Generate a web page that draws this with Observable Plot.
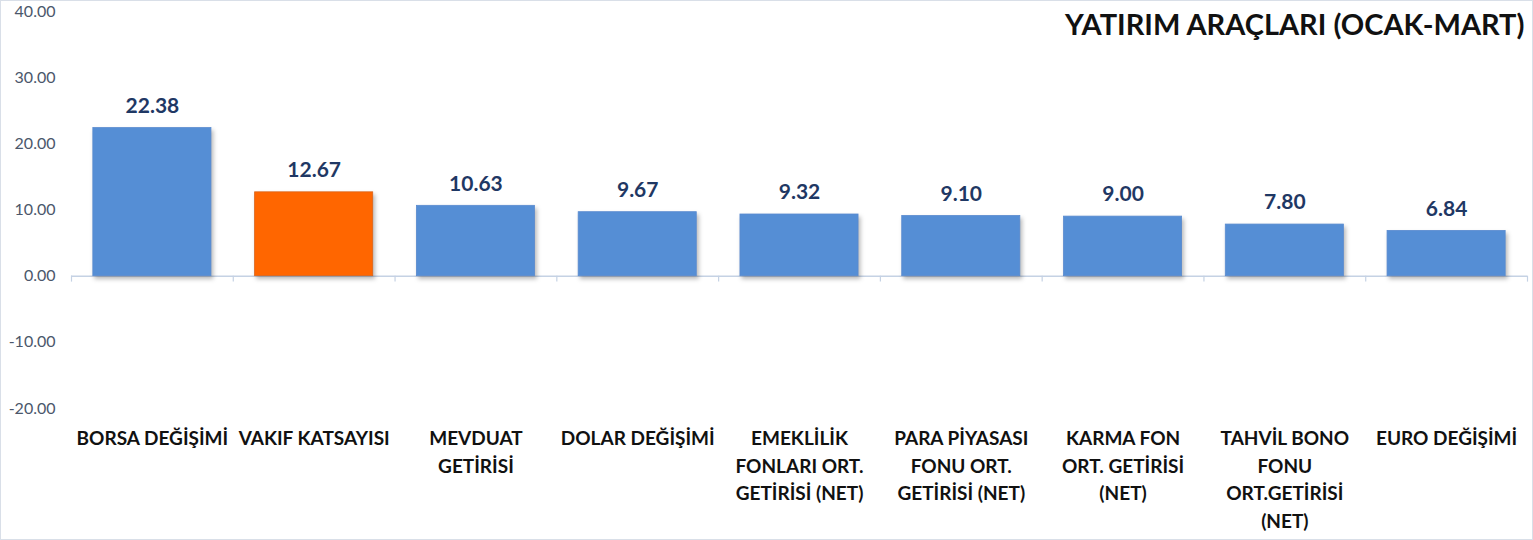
<!DOCTYPE html>
<html>
<head>
<meta charset="utf-8">
<script src="https://cdn.jsdelivr.net/npm/d3@7"></script>
<script src="https://cdn.jsdelivr.net/npm/@observablehq/plot@0.6"></script>
<style>
  html, body { margin: 0; padding: 0; background: #fff; }
  #chart svg { display: block; border: 1px solid #d9dfe8; background: #fff; }
  #chart g[aria-label="bar"] rect { filter: drop-shadow(2px 3px 2px rgba(0,0,0,0.28)); }
</style>
</head>
<body>
<div id="chart"></div>
<script>
const title = "YATIRIM ARAÇLARI (OCAK-MART)";
const categories = [
  "BORSA DEĞİŞİMİ",
  "VAKIF KATSAYISI",
  "MEVDUAT GETİRİSİ",
  "DOLAR DEĞİŞİMİ",
  "EMEKLİLİK FONLARI ORT. GETİRİSİ (NET)",
  "PARA PİYASASI FONU ORT. GETİRİSİ (NET)",
  "KARMA FON ORT. GETİRİSİ (NET)",
  "TAHVİL BONO FONU ORT.GETİRİSİ (NET)",
  "EURO DEĞİŞİMİ"
];
const categoryLabels = [
  "BORSA DEĞİŞİMİ",
  "VAKIF KATSAYISI",
  "MEVDUAT\nGETİRİSİ",
  "DOLAR DEĞİŞİMİ",
  "EMEKLİLİK\nFONLARI ORT.\nGETİRİSİ (NET)",
  "PARA PİYASASI\nFONU ORT.\nGETİRİSİ (NET)",
  "KARMA FON\nORT. GETİRİSİ\n(NET)",
  "TAHVİL BONO\nFONU\nORT.GETİRİSİ\n(NET)",
  "EURO DEĞİŞİMİ"
];
const values = [22.38, 12.67, 10.63, 9.67, 9.32, 9.10, 9.00, 7.80, 6.84];
const highlighted = ["VAKIF KATSAYISI"];
const yTicks = [-20, -10, 0, 10, 20, 30, 40];

const data = categories.map((c, i) => ({category: c, label: categoryLabels[i], value: values[i]}));
const labelOf = new Map(data.map(d => [d.category, d.label]));

const W = 1531, H = 538;
const mL = 70, mR = 5, mT = 10, mB = 131;
const step = (W - mL - mR) / categories.length;
const font = "Lato, 'Open Sans', sans-serif";

const chart = Plot.plot({
  width: W,
  height: H,
  marginLeft: mL,
  marginRight: mR,
  marginTop: mT,
  marginBottom: mB,
  style: {fontFamily: font, background: "#fff"},
  x: {domain: categories, paddingInner: 0.27, paddingOuter: 0.135, round: false},
  y: {domain: [-20, 40]},
  marks: [
    Plot.ruleY([0], {stroke: "#c5d2e4", strokeWidth: 1.5}),
    Plot.ruleX(categories, {x: d => d, dx: -step / 2, y1: 0, y2: -0.9, stroke: "#c5d2e4", strokeWidth: 1.2}),
    Plot.ruleX(categories.slice(-1), {x: d => d, dx: step / 2, y1: 0, y2: -0.9, stroke: "#c5d2e4", strokeWidth: 1.2}),
    Plot.barY(data, {
      x: "category",
      y: "value",
      fill: d => highlighted.includes(d.category) ? "#ff6600" : "#558ed5",
      stroke: d => highlighted.includes(d.category) ? "#d9641a" : "#5a8bcf",
      strokeWidth: 0.8
    }),
    Plot.text(data, {
      x: "category",
      y: "value",
      text: d => d.value.toFixed(2),
      dy: -22,
      fill: "#1f3864",
      fontSize: 21,
      fontWeight: "bold"
    }),
    Plot.axisY({
      ticks: yTicks,
      tickFormat: d => d.toFixed(2),
      tickSize: 0,
      tickPadding: 16,
      fontSize: 16,
      fill: "#4b576b",
      label: null
    }),
    Plot.axisX({
      tickSize: 0,
      tickPadding: 17,
      tickFormat: d => labelOf.get(d),
      fontSize: 19,
      fontWeight: "bold",
      fill: "#111",
      lineHeight: 1.45,
      label: null
    }),
    Plot.text([title], {
      frameAnchor: "top-right",
      lineAnchor: "top",
      dx: -3,
      dy: 3,
      fontSize: 29,
      fontWeight: "bold",
      fill: "#111"
    })
  ]
});
document.getElementById("chart").appendChild(chart);
</script>
</body>
</html>
